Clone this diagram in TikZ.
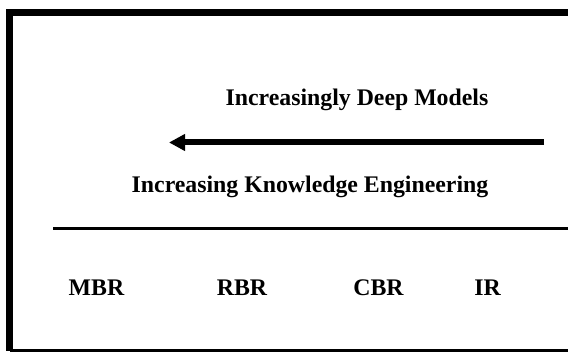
\documentclass[tikz,border=0pt]{standalone}
\usepackage{fontspec}
\setmainfont{Liberation Serif}
\usepackage{tikz}
\usetikzlibrary{arrows.meta}

\begin{document}
\begin{tikzpicture}[x=1pt,y=-1pt,
  lbl/.style={anchor=base,inner sep=0pt,font=\fontsize{23.8}{27}\selectfont\bfseries}]
\useasboundingbox (0,0) rectangle (568,352);
\draw [line width=6.5pt] (568,12.5) -- (9.5,12.5) -- (9.5,351);
\draw [line width=3pt] (9.5,350.5) -- (568,350.5);
\node (deep) at (357,106) [lbl] {Increasingly Deep Models};
\node (know) at (310,193) [lbl] {Increasing Knowledge Engineering};
\coordinate (a1) at (544,142.5);
\coordinate (a2) at (169,142.5);
\draw [line width=6pt,-{Triangle[length=16pt,width=16pt]}] (a1) -- (a2);
\coordinate (l1) at (53,229);
\coordinate (l2) at (568,229);
\draw [line width=3pt] (l1) -- (l2);
\node (mbr) at (96.5,296) [lbl] {MBR};
\node (rbr) at (242,296) [lbl] {RBR};
\node (cbr) at (378.5,296) [lbl] {CBR};
\node (ir) at (487.5,296) [lbl] {IR};
\end{tikzpicture}
\end{document}
